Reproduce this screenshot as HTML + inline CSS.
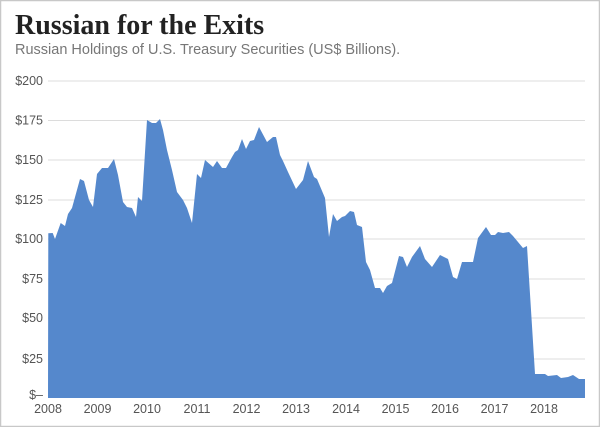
<!DOCTYPE html>
<html><head><meta charset="utf-8"><style>
html,body{margin:0;padding:0;background:#fff;}
svg{display:block;}
</style></head><body>
<svg width="600" height="427" viewBox="0 0 600 427" xmlns="http://www.w3.org/2000/svg">
<rect x="0.5" y="0.5" width="599" height="426" fill="#fff" stroke="#c8c8c8" stroke-width="1.5"/>
<text x="15" y="34" font-family="'Liberation Serif',serif" font-weight="bold" font-size="28" fill="#222">Russian for the Exits</text>
<text x="15" y="54" font-family="'Liberation Sans',sans-serif" font-size="14.5" fill="#777">Russian Holdings of U.S. Treasury Securities (US$ Billions).</text>
<g stroke="#dcdcdc" stroke-width="1">
<line x1="48" x2="585" y1="81" y2="81"/><line x1="48" x2="585" y1="120.5" y2="120.5"/>
<line x1="48" x2="585" y1="160" y2="160"/><line x1="48" x2="585" y1="200" y2="200"/>
<line x1="48" x2="585" y1="239" y2="239"/><line x1="48" x2="585" y1="279" y2="279"/>
<line x1="48" x2="585" y1="318" y2="318"/><line x1="48" x2="585" y1="359" y2="359"/>
</g>
<g font-family="'Liberation Sans',sans-serif" font-size="12.5" fill="#555" text-anchor="end">
<text x="43" y="85">$200</text><text x="43" y="124.5">$175</text><text x="43" y="164">$150</text>
<text x="43" y="204">$125</text><text x="43" y="243">$100</text><text x="43" y="283">$75</text>
<text x="43" y="322">$50</text><text x="43" y="363">$25</text><text x="43" y="399">$–</text>
</g>
<path fill="#5588cc" d="M48,398 L48.3,233.3 52.7,233 55,239 60.7,223 65,226 68,214 72,208 80,179 84,181 89,200 93,207 97,174 102,168 108,168 114,159 118,175 123,202 127,207 132,208 136,217 138,197 142,201 147,120 152,123 156,123 160,119 163,130 167,150 172,170 177,192 183,200 187,208 192,223 197,174 201,178 205,160 213,167 217,161 222,168 226,168 232,157 235,152 238,150 242,139 246,149 250,141 254,140 259,127 267,142 273,137 276,137 280,155 283,161 288,172 296,189 303,180 308,161 314,177 317,179 325,198 329,237 333,214 337,221 342,217 345,216 350,211 354,212 357,225 362,227 366,262 370,270 375,288 380,288 383,293 387,286 392,283 399,256 403,257 407,267 412,257 420,246 425,259 432,267 440,255 448,259 453,277 457,279 462,262 473,262 478,238 486,227 491,235 495,235 498,232 503,233 509,232 513,236 523,248 527,246 535,374 545,374 548,376 557,375 561,378 568,377 573,375 579,379 585,379 L585,398 Z"/>
<g font-family="'Liberation Sans',sans-serif" font-size="12.5" fill="#555" text-anchor="middle">
<text x="48" y="413">2008</text><text x="97.5" y="413">2009</text><text x="147" y="413">2010</text>
<text x="197" y="413">2011</text><text x="246.5" y="413">2012</text><text x="296" y="413">2013</text>
<text x="346" y="413">2014</text><text x="395.5" y="413">2015</text><text x="445" y="413">2016</text>
<text x="494.5" y="413">2017</text><text x="544" y="413">2018</text>
</g>
</svg>
</body></html>
